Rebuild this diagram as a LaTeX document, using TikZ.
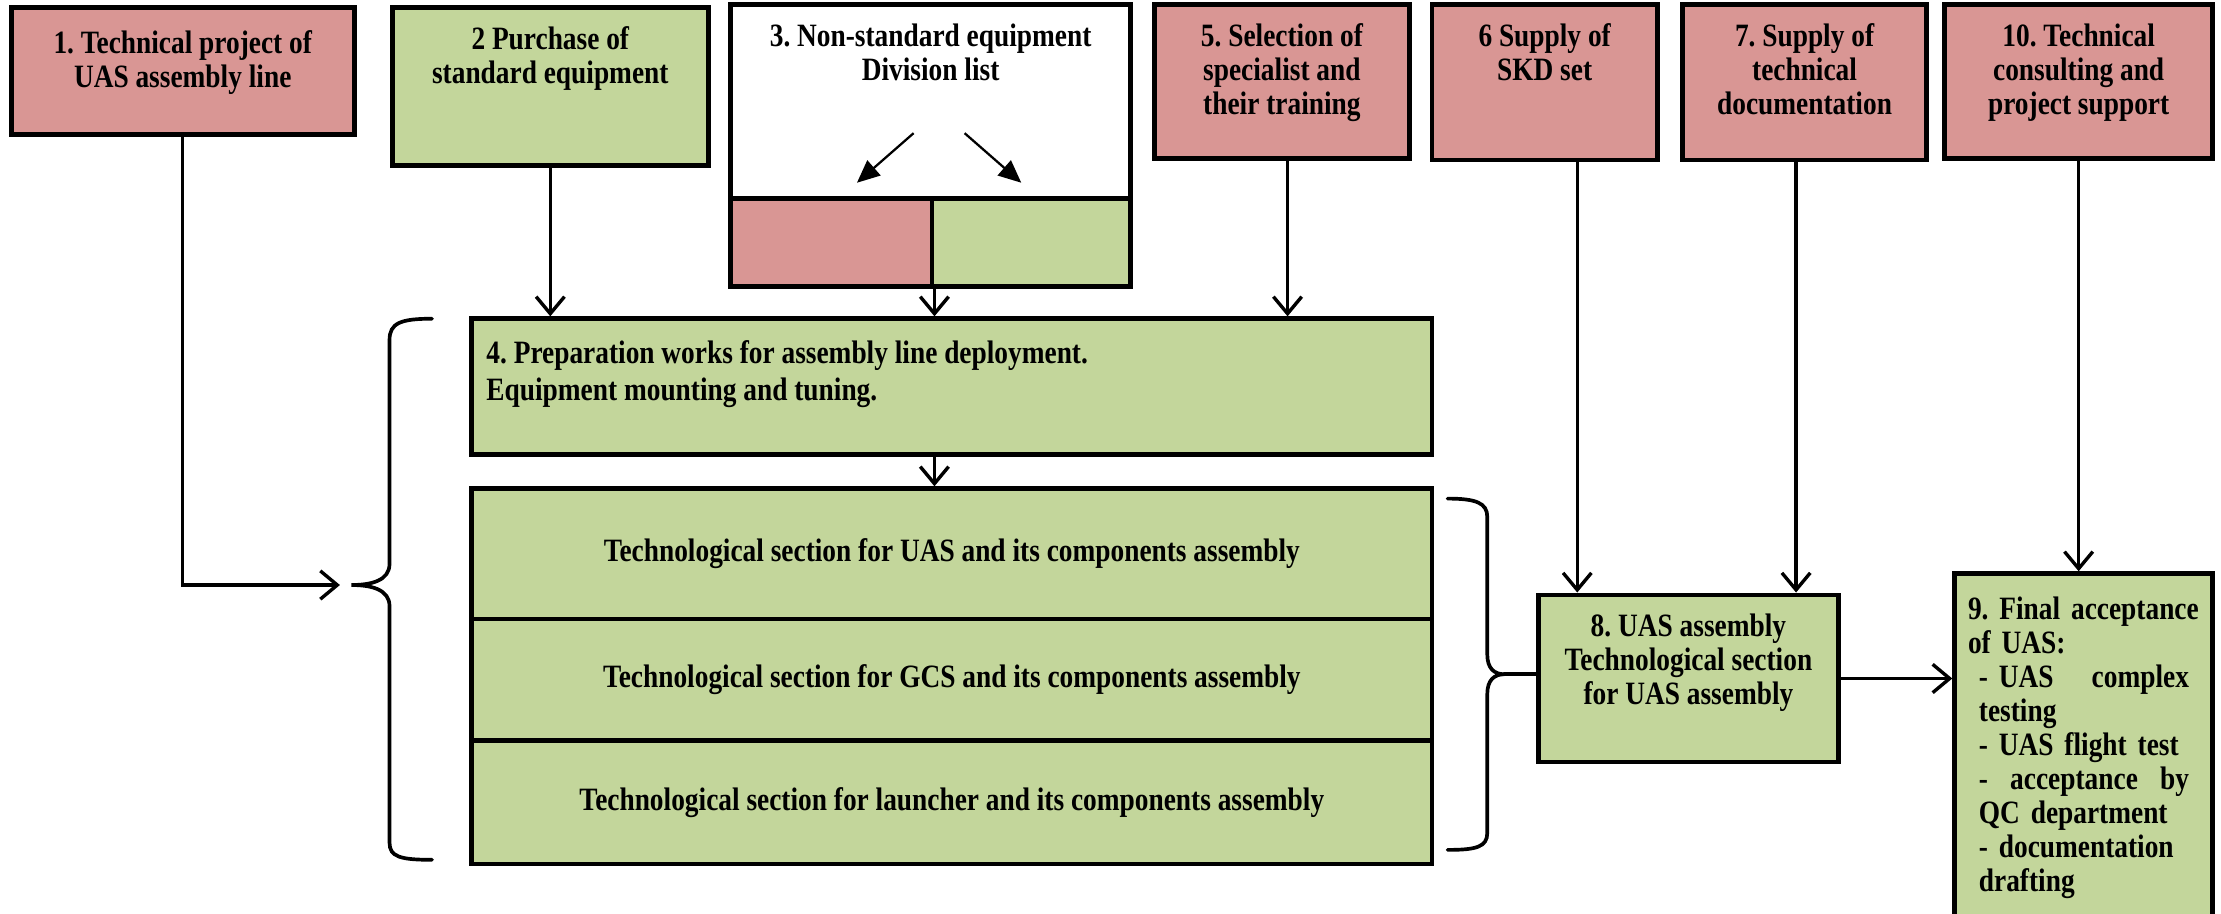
\documentclass[tikz,border=0pt]{standalone}
\usepackage{fontspec}
\setmainfont{Liberation Serif}[FakeStretch=0.84]
\usetikzlibrary{arrows.meta}
\definecolor{pinkc}{HTML}{D99694}
\definecolor{greenc}{HTML}{C3D69B}
\frenchspacing
\tikzset{
  boxst/.style={draw=black, line width=1.7pt, rectangle, inner sep=0pt},
  txt/.style={inner sep=0pt, font=\bfseries\fontsize{11.5}{12}\selectfont\frenchspacing, align=center},
  conn/.style={line width=1.2pt, -{Straight Barb[length=6pt,width=10pt,line width=1.2pt]}},
  tri/.style={line width=0.8pt, -{Triangle[length=8pt,width=7pt]}},
  brace/.style={line width=1.3pt, line cap=round}
}
\newcommand\bx[6]{\node[boxst,fill=#2,minimum width={(#5-#3)*0.5pt},minimum height={(#6-#4)*0.5pt}] (#1) at ({(#3+#5)/2},{(#4+#6)/2}) {};}
\newcommand\jline[1]{\leavevmode\hbox to 78pt{#1}}
\begin{document}
\begin{tikzpicture}[x=0.5pt,y=-0.5pt]
\useasboundingbox (0,0) rectangle (1568,645);
% top row
\bx{b1}{pinkc}{8}{5}{250}{95}
\node[txt,anchor=north] (b1t) at ([yshift=-9pt]b1.north) {1. Technical project of\\UAS assembly line};
\bx{b2}{greenc}{277}{5}{500}{117}
\node[txt,anchor=north] (b2t) at ([yshift=-7.5pt]b2.north) {2 Purchase of\\standard equipment};
\bx{b3}{white}{516}{3}{798}{140}
\node[txt,anchor=north] (b3t) at ([yshift=-7.5pt]b3.north) {3. Non-standard equipment\\Division list};
\bx{b3L}{pinkc}{516}{140}{658}{202}
\bx{b3R}{greenc}{658}{140}{798}{202}
\coordinate (a1s) at (645,94); \coordinate (a1e) at (605,129);
\coordinate (a2s) at (681,94); \coordinate (a2e) at (721,129);
\draw[tri] (a1s) -- (a1e);
\draw[tri] (a2s) -- (a2e);
\bx{b5}{pinkc}{815}{3}{995}{112}
\node[txt,anchor=north] (b5t) at ([yshift=-7.5pt]b5.north) {5. Selection of\\specialist and\\their training};
\bx{b6}{pinkc}{1011}{3}{1170}{113}
\node[txt,anchor=north] (b6t) at ([yshift=-7.5pt]b6.north) {6 Supply of\\SKD set};
\bx{b7}{pinkc}{1188}{3}{1360}{113}
\node[txt,anchor=north] (b7t) at ([yshift=-7.5pt]b7.north) {7. Supply of\\technical\\documentation};
\bx{b10}{pinkc}{1373}{3}{1562}{112}
\node[txt,anchor=north] (b10t) at ([yshift=-7.5pt]b10.north) {10. Technical\\consulting and\\project support};
% box 4
\bx{b4}{greenc}{333}{225}{1011}{321}
\node[txt,anchor=north west,align=left] (b4t) at (343,240) {4. Preparation works for assembly line deployment.\\[1pt]Equipment mounting and tuning.};
% sections
\bx{s1}{greenc}{333}{345}{1011}{437}
\node[txt] (s1t) at (s1.center) {Technological section for UAS and its components assembly};
\bx{s2}{greenc}{333}{437}{1011}{523}
\node[txt] (s2t) at (s2.center) {Technological section for GCS and its components assembly};
\bx{s3}{greenc}{333}{523}{1011}{610}
\node[txt] (s3t) at (s3.center) {Technological section for launcher and its components assembly};
% box 8
\bx{b8}{greenc}{1086}{420}{1298}{538}
\node[txt,anchor=north] (b8t) at ([yshift=-7.5pt]b8.north) {8. UAS assembly\\Technological section\\for UAS assembly};
% box 9
\bx{b9}{greenc}{1380}{405}{1562}{648}
\node[txt,anchor=north west,align=left,text width=100pt] (b9t) at (1389,421) {9. Final acceptance\\of UAS:\\\jline{\ - UAS\hfill complex}\\\ testing\\\ - UAS flight test\\\jline{\ -\hfill acceptance\hfill by}\\\ QC department\\\ - documentation\\\ drafting};
% connectors
\draw[conn] (b2.south) -- (b2.south |- b4.north);
\draw[conn] (b3L.south east) -- (b3L.south east |- b4.north);
\draw[conn] ([xshift=2pt]b5.south) -- ([xshift=2pt]b5.south |- b4.north);
\draw[conn] (b3L.south east |- b4.south) -- (b3L.south east |- s1.north);
\draw[conn] ([xshift=11.5pt]b6.south) -- ([xshift=11.5pt]b6.south |- b8.north);
\draw[conn] ([xshift=-3pt]b7.south) -- ([xshift=-3pt]b7.south |- b8.north);
\draw[conn] (b10.south) -- (b10.south |- b9.north);
\draw[conn] (b8.east) -- (b8.east -| b9.west);
\coordinate (ltip) at (240,413);
\draw[conn] (b1.south) |- (ltip);
% left brace
\draw[brace] (305,225) .. controls (283,225) and (275,228) .. (275,240) -- (275,398) .. controls (275,410) and (262,413) .. (248,413) .. controls (262,413) and (275,416) .. (275,428) -- (275,595) .. controls (275,605) and (283,607) .. (305,607);
% right brace
\coordinate (rtip) at (1062,476);
\draw[brace] (1022,352) .. controls (1042,352) and (1050,355) .. (1050,365) -- (1050,462) .. controls (1050,472) and (1055,476) .. (rtip) .. controls (1055,476) and (1050,480) .. (1050,490) -- (1050,588) .. controls (1050,598) and (1042,600) .. (1022,600);
\draw[brace] (rtip) -- (b8.west |- rtip);
\end{tikzpicture}
\end{document}
